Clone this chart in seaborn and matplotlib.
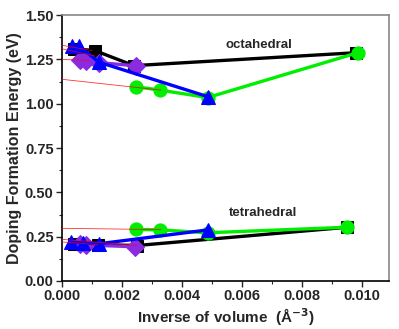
import numpy as np
import pandas as pd
import seaborn as sns
import matplotlib.pyplot as plt
from matplotlib.ticker import MultipleLocator

# %% data
# octahedral site
oct_black_x = [0.0004, 0.0011, 0.0024, 0.0098]
oct_black_y = [1.31, 1.30, 1.215, 1.288]
oct_purple_x = [0.0006, 0.00082, 0.00124, 0.00247]
oct_purple_y = [1.246, 1.244, 1.232, 1.214]
oct_green_x = [0.00247, 0.00327, 0.00486, 0.00986]
oct_green_y = [1.096, 1.077, 1.035, 1.288]
oct_blue_x = [0.00033, 0.00058, 0.00123, 0.00486]
oct_blue_y = [1.325, 1.325, 1.235, 1.04]

# tetrahedral site
tet_black_x = [0.0004, 0.0012, 0.0025, 0.0095]
tet_black_y = [0.21, 0.205, 0.20, 0.303]
tet_purple_x = [0.0006, 0.00082, 0.00244]
tet_purple_y = [0.207, 0.203, 0.193]
tet_green_x = [0.00247, 0.00327, 0.00486, 0.0095]
tet_green_y = [0.291, 0.288, 0.272, 0.303]
tet_blue_x = [0.0003, 0.00069, 0.00124, 0.00486]
tet_blue_y = [0.22, 0.215, 0.21, 0.288]

# thin red fit lines (x0, y0, x1, y1)
fit_lines = [
    (0.0, 1.138, 0.0033, 1.077),
    (0.0, 1.25, 0.0009, 1.245),
    (0.0, 1.33, 0.0010, 1.30),
    (0.0, 1.31, 0.0011, 1.27),
    (0.0, 0.297, 0.0033, 0.290),
    (0.0, 0.235, 0.0025, 0.200),
    (0.0, 0.220, 0.0012, 0.205),
]

# %% plot
sns.set_style('ticks')
plt.rcParams['font.family'] = ['Liberation Sans', 'DejaVu Sans']
plt.rcParams['font.weight'] = 'bold'

fig = plt.figure(figsize=(3.99, 3.29), dpi=100)
ax = fig.add_axes([0.155, 0.146, 0.82, 0.808])

styles = [
    ('black', 's', 8, oct_black_x, oct_black_y, tet_black_x, tet_black_y, 2),
    ('#8a2be2', 'D', 9, oct_purple_x, oct_purple_y, tet_purple_x, tet_purple_y, 3),
    ('#00ee00', 'o', 9.5, oct_green_x, oct_green_y, tet_green_x, tet_green_y, 4),
    ('#0000ff', '^', 9.5, oct_blue_x, oct_blue_y, tet_blue_x, tet_blue_y, 5),
]
for color, marker, ms, ox, oy, tx, ty, z in styles:
    for xs, ys in [(ox, oy), (tx, ty)]:
        df = pd.DataFrame({'x': xs, 'y': ys})
        sns.lineplot(data=df, x='x', y='y', sort=False, color=color,
                     marker=marker, markersize=ms, markeredgecolor=color,
                     linewidth=2.4, ax=ax, zorder=z)

for x0, y0, x1, y1 in fit_lines:
    ax.plot([x0, x1], [y0, y1], color='red', linewidth=0.6, alpha=0.8, zorder=6)

ax.text(0.00657, 1.33, 'octahedral', ha='center', va='center',
        fontsize=9.5, fontweight='bold')
ax.text(0.0067, 0.385, 'tetrahedral', ha='center', va='center',
        fontsize=9.5, fontweight='bold')

ax.set_xlim(0, 0.0109)
ax.set_ylim(0, 1.5)
ax.xaxis.set_major_locator(MultipleLocator(0.002))
ax.xaxis.set_minor_locator(MultipleLocator(0.001))
ax.yaxis.set_major_locator(MultipleLocator(0.25))
ax.yaxis.set_minor_locator(MultipleLocator(0.125))
ax.xaxis.set_major_formatter(plt.FormatStrFormatter('%.3f'))
ax.yaxis.set_major_formatter(plt.FormatStrFormatter('%.2f'))
ax.tick_params(which='major', direction='out', length=4, width=1,
               labelsize=10.5, pad=2)
ax.tick_params(which='minor', direction='out', length=2.5, width=0.8)
for lab in ax.get_xticklabels() + ax.get_yticklabels():
    lab.set_fontweight('bold')

for side in ['left', 'bottom']:
    ax.spines[side].set_color('black')
    ax.spines[side].set_linewidth(1.2)
for side in ['top', 'right']:
    ax.spines[side].set_visible(True)
    ax.spines[side].set_color('#888888')
    ax.spines[side].set_linewidth(1.2)

ax.set_xlabel('Inverse of volume  (Å$^{-3}$)', fontsize=11,
              fontweight='bold', labelpad=2)
ax.set_ylabel('Doping Formation Energy (eV)', fontsize=11.5,
              fontweight='bold', labelpad=2)

fig.savefig('out.png', dpi=100)
